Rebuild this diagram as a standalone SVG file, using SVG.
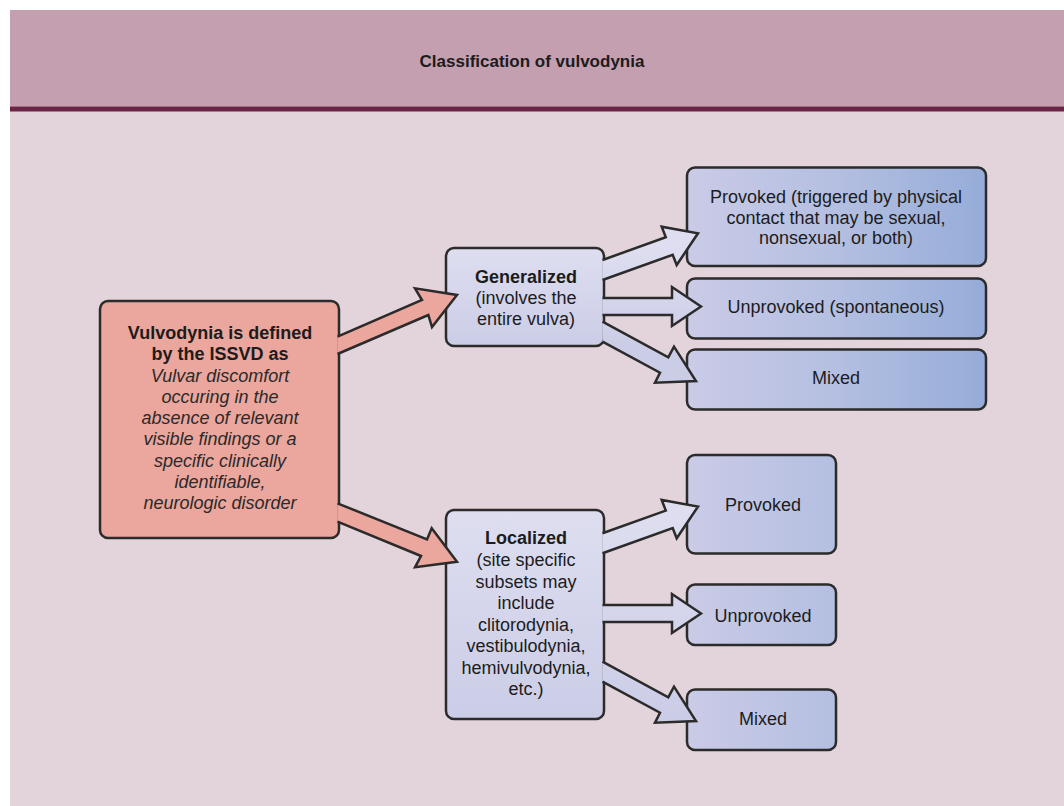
<svg xmlns="http://www.w3.org/2000/svg" width="1064" height="806" viewBox="0 0 1064 806">
  <defs>
    <style>
      .t { font-family: "Liberation Sans", Arial, Helvetica, sans-serif; font-size: 18px; fill: #1c1c1c; text-anchor: middle; }
      .b { font-weight: bold; }
      .i { font-style: italic; fill: #2a2a2a; }
      .box { stroke: #2b2b2b; stroke-width: 2.5; }
      .arrow { stroke: #2b2b2b; stroke-width: 2.5; stroke-linejoin: miter; stroke-miterlimit: 10; }
      .red { fill: #eba69d; }
    </style>
    <!-- middle category boxes: soft vertical shading -->
    <linearGradient id="midTop" gradientUnits="userSpaceOnUse" x1="0" y1="248" x2="0" y2="346">
      <stop offset="0" stop-color="#dedef0"/>
      <stop offset="1" stop-color="#cbcde7"/>
    </linearGradient>
    <linearGradient id="midBot" gradientUnits="userSpaceOnUse" x1="0" y1="510" x2="0" y2="719">
      <stop offset="0" stop-color="#dedef0"/>
      <stop offset="1" stop-color="#cbcde7"/>
    </linearGradient>
    <!-- subtype boxes: horizontal shading, lavender to blue -->
    <linearGradient id="sub" gradientUnits="userSpaceOnUse" x1="687" y1="0" x2="986" y2="0">
      <stop offset="0" stop-color="#cacbe7"/>
      <stop offset="0.5" stop-color="#b4bfe1"/>
      <stop offset="1" stop-color="#95acd8"/>
    </linearGradient>
  </defs>

  <!-- page -->
  <rect x="0" y="0" width="1064" height="806" fill="#ffffff"/>
  <rect x="10" y="10" width="1054" height="796" fill="#e3d3da"/>
  <rect x="10" y="10" width="1054" height="96.5" fill="#c49fb0"/>
  <rect x="10" y="106.5" width="1054" height="5" fill="#6a2446"/>
  <text class="t b" x="532" y="66.5" style="font-size:17px">Classification of vulvodynia</text>

  <!-- definition -->
  <g id="definition">
    <rect class="box red" x="100" y="301" width="239" height="237" rx="8"/>
    <text class="t b" x="220" y="338.5">Vulvodynia is defined</text>
    <text class="t b" x="220" y="359.5">by the ISSVD as</text>
    <text class="t i" x="220" y="381.5">Vulvar discomfort</text>
    <text class="t i" x="220" y="402.7">occuring in the</text>
    <text class="t i" x="220" y="424">absence of relevant</text>
    <text class="t i" x="220" y="445.2">visible findings or a</text>
    <text class="t i" x="220" y="466.5">specific clinically</text>
    <text class="t i" x="220" y="487.7">identifiable,</text>
    <text class="t i" x="220" y="509">neurologic disorder</text>
  </g>

  <!-- categories -->
  <g id="generalized">
    <rect class="box" x="446" y="248" width="158" height="98" rx="8" fill="url(#midTop)"/>
    <text class="t b" x="526" y="283">Generalized</text>
    <text class="t" x="526" y="303.5">(involves the</text>
    <text class="t" x="526" y="324.5">entire vulva)</text>
  </g>
  <g id="localized">
    <rect class="box" x="446" y="510" width="158" height="209" rx="8" fill="url(#midBot)"/>
    <text class="t b" x="526" y="544">Localized</text>
    <text class="t" x="526" y="566">(site specific</text>
    <text class="t" x="526" y="587.5">subsets may</text>
    <text class="t" x="526" y="609">include</text>
    <text class="t" x="526" y="630.5">clitorodynia,</text>
    <text class="t" x="526" y="652">vestibulodynia,</text>
    <text class="t" x="526" y="673.5">hemivulvodynia,</text>
    <text class="t" x="526" y="695">etc.)</text>
  </g>

  <!-- generalized subtypes -->
  <g id="gen-provoked">
    <rect class="box" x="687" y="167.5" width="299" height="98.5" rx="8" fill="url(#sub)"/>
    <text class="t" x="836" y="203">Provoked (triggered by physical</text>
    <text class="t" x="836" y="223.5">contact that may be sexual,</text>
    <text class="t" x="836" y="244">nonsexual, or both)</text>
  </g>
  <g id="gen-unprovoked">
    <rect class="box" x="687" y="278.5" width="299" height="60" rx="8" fill="url(#sub)"/>
    <text class="t" x="836" y="313">Unprovoked (spontaneous)</text>
  </g>
  <g id="gen-mixed">
    <rect class="box" x="687" y="349.5" width="299" height="60" rx="8" fill="url(#sub)"/>
    <text class="t" x="836" y="383.5">Mixed</text>
  </g>

  <!-- localized subtypes -->
  <g id="loc-provoked">
    <rect class="box" x="687" y="455" width="149" height="98.5" rx="8" fill="url(#sub)"/>
    <text class="t" x="763" y="511">Provoked</text>
  </g>
  <g id="loc-unprovoked">
    <rect class="box" x="687" y="584.5" width="149" height="60.5" rx="8" fill="url(#sub)"/>
    <text class="t" x="763" y="622">Unprovoked</text>
  </g>
  <g id="loc-mixed">
    <rect class="box" x="687" y="689.5" width="149" height="60.5" rx="8" fill="url(#sub)"/>
    <text class="t" x="763" y="725">Mixed</text>
  </g>

  <!-- block arrows; open paths so the tail edge merges into the source box -->
  <g id="connectors">
    <path class="arrow red" d="M337.5,336.7 L422,300 L415,288.3 L457,295 L432,327 L428.3,315 L337.5,354"/>
    <path class="arrow red" d="M337.5,503.3 L427,539.5 L431.7,528.3 L457,561.7 L415,567.3 L421,556 L337.5,521.7"/>

    <g fill="url(#midTop)">
      <path class="arrow" d="M602.5,260 L665.8,237.3 L661.7,226.7 L698,233.3 L676.7,265 L672.7,254.8 L602.5,280"/>
      <path class="arrow" d="M602.5,298 L672,298 L672,287 L701,306.5 L672,326 L672,315 L602.5,315"/>
      <path class="arrow" d="M602.5,321.7 L668.3,357.3 L674,346.7 L696,381 L655,382.7 L660,372.7 L602.5,341.7"/>
    </g>
    <g fill="url(#midBot)">
      <path class="arrow" d="M602.5,533.3 L665.8,510.6 L661.7,500 L698,506.6 L676.7,538.3 L672.7,528.1 L602.5,553.3"/>
      <path class="arrow" d="M602.5,605 L672,605 L672,594 L701,613.5 L672,633 L672,622 L602.5,622"/>
      <path class="arrow" d="M602.5,661.7 L668.3,697.3 L674,686.7 L696,721 L655,722.7 L660,712.7 L602.5,681.7"/>
    </g>
  </g>
</svg>
